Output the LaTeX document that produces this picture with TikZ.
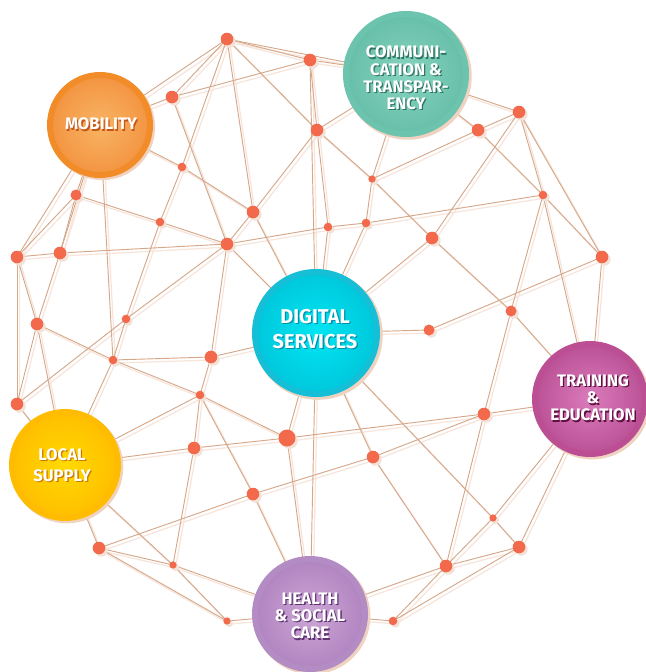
\documentclass[tikz,border=0pt]{standalone}
\usepackage{fontspec}
\setmainfont{Fira Sans}
\usetikzlibrary{shadows}
\definecolor{linec}{HTML}{D6A88A}
\definecolor{lshc}{HTML}{F7E4DA}
\definecolor{dotc}{HTML}{F26A4B}
\definecolor{dshc}{HTML}{F3E2D8}
\definecolor{hshc}{HTML}{EFD3C0}
% hubs
\definecolor{mobR}{HTML}{F28C28}\definecolor{mobI}{HTML}{F8B463}\definecolor{mobO}{HTML}{EE7420}\definecolor{mobS}{HTML}{C4561A}
\definecolor{comR}{HTML}{6CC4AE}\definecolor{comI}{HTML}{86D4C0}\definecolor{comO}{HTML}{48A990}\definecolor{comS}{HTML}{2E7564}
\definecolor{digR}{HTML}{16BED6}\definecolor{digI}{HTML}{00E6F2}\definecolor{digO}{HTML}{00A8C6}\definecolor{digS}{HTML}{0090AC}
\definecolor{traR}{HTML}{BC4E94}\definecolor{traI}{HTML}{DA7CBC}\definecolor{traO}{HTML}{9C2670}\definecolor{traS}{HTML}{5E1040}
\definecolor{locR}{HTML}{FFBC00}\definecolor{locI}{HTML}{FFDA00}\definecolor{locO}{HTML}{FFA200}\definecolor{locS}{HTML}{CC7A00}
\definecolor{heaR}{HTML}{B48CC4}\definecolor{heaI}{HTML}{CCA6D6}\definecolor{heaO}{HTML}{9662AA}\definecolor{heaS}{HTML}{5E3272}
\pgfdeclareradialshading{shmob}{\pgfpointorigin}{color(0bp)=(mobI); color(50bp)=(mobO)}
\pgfdeclareradialshading{shcom}{\pgfpointorigin}{color(0bp)=(comI); color(50bp)=(comO)}
\pgfdeclareradialshading{shdig}{\pgfpointorigin}{color(0bp)=(digI); color(50bp)=(digO)}
\pgfdeclareradialshading{shtra}{\pgfpointorigin}{color(0bp)=(traI); color(50bp)=(traO)}
\pgfdeclareradialshading{shloc}{\pgfpointorigin}{color(0bp)=(locI); color(50bp)=(locO)}
\pgfdeclareradialshading{shhea}{\pgfpointorigin}{color(0bp)=(heaI); color(50bp)=(heaO)}
\pgfdeclarelayer{bgA}\pgfdeclarelayer{bgB}\pgfdeclarelayer{bg0}
\pgfsetlayers{bg0,bgA,bgB,main}
\begin{document}
\begin{tikzpicture}[x=0.75pt,y=-0.75pt,
  ndot/.style={circle, fill=dotc, inner sep=0pt, outer sep=0pt,
    general shadow={fill=dshc, shadow xshift=1.8pt, shadow yshift=-1.8pt}},
  dXL/.style={ndot, minimum size=12.75pt},
  dL/.style={ndot, minimum size=9.45pt},
  dM/.style={ndot, minimum size=8.25pt},
  dS/.style={ndot, minimum size=6.45pt},
  dXS/.style={ndot, minimum size=5.5pt},
  hub/.style={circle, inner sep=0pt, outer sep=0pt, line width=4.5pt,
    general shadow={fill=hshc, shadow scale=1.06, shadow xshift=1.5pt, shadow yshift=-1.5pt}},
  htxt/.style={text=white, align=center, inner sep=0pt,
    font={\bfseries\fontsize{12.5pt}{12.9pt}\selectfont}},
  lmain/.style={draw=linec, line width=0.7pt},
  lsh/.style={draw=lshc, line width=0.9pt}]
\useasboundingbox (0,0) rectangle (646,672);
\begin{pgfonlayer}{bg0}
\fill[white] (0,0) rectangle (646,672);
\end{pgfonlayer}
% hubs
\node[hub, draw=mobR, shading=shmob, minimum size=75pt] (mob) at (100,125) {};
\node[hub, draw=comR, shading=shcom, minimum size=90pt] (com) at (406,74) {};
\node[hub, draw=digR, shading=shdig, minimum size=91.5pt] (dig) at (316,333) {};
\node[hub, draw=traR, shading=shtra, minimum size=82.5pt] (tra) at (590,399) {};
\node[hub, draw=locR, shading=shloc, minimum size=79.5pt] (loc) at (65,465) {};
\node[hub, draw=heaR, shading=shhea, minimum size=82.5pt] (hea) at (310,614) {};
% dots
\node[dL] (na) at (227,39) {};
\node[dL] (nb) at (310,60) {};
\node[dL] (nc) at (172,97) {};
\node[dL] (nd) at (317,130) {};
\node[dS] (ne) at (182,167) {};
\node[dM] (nf) at (76,195) {};
\node[dL] (ng) at (253,212) {};
\node[dS] (nh) at (160,222) {};
\node[dL] (ni) at (227,244) {};
\node[dL] (nj) at (17,257) {};
\node[dL] (nk) at (60,253) {};
\node[dS] (nl) at (328,227) {};
\node[dL] (nm) at (37,324) {};
\node[dS] (nn) at (126,319) {};
\node[dL] (no) at (519,112) {};
\node[dL] (np) at (478,130) {};
\node[dXS] (nq) at (372,179) {};
\node[dS] (nr) at (543,195) {};
\node[dS] (ns) at (366,223) {};
\node[dL] (nt) at (432,238) {};
\node[dL] (nu) at (602,257) {};
\node[dM] (nv) at (511,311) {};
\node[dM] (nw) at (429,330) {};
\node[dS] (nx) at (113,360) {};
\node[dL] (ny) at (211,357) {};
\node[dL] (nz) at (17,404) {};
\node[dS] (naa) at (200,395) {};
\node[dXL] (nab) at (287,438) {};
\node[dL] (nac) at (194,448) {};
\node[dL] (nad) at (253,494) {};
\node[dL] (nae) at (99,548) {};
\node[dXS] (naf) at (173,565) {};
\node[dXS] (nag) at (227,621) {};
\node[dL] (nai) at (484,414) {};
\node[dL] (naj) at (373,457) {};
\node[dXS] (nak) at (493,518) {};
\node[dL] (nal) at (519,547) {};
\node[dL] (nam) at (446,566) {};
\node[dS] (nan) at (393,621) {};
% connectors
\foreach \u/\v in {na/com, na/nb, na/mob, na/nc, na/ne, na/nd, na/ng,
  nb/nc, nb/com, nb/nd, nb/dig,
  nc/mob, nc/ni,
  nd/com, nd/ng, nd/nq, nd/nl,
  ne/mob, ne/ng, ne/nh,
  nf/mob, nf/nh, nf/nj, nf/nk,
  nh/ni, nh/nn,
  ng/ni, ng/dig,
  ni/nk, ni/nl, ni/nn, ni/ny, ni/dig,
  nj/nk, nj/mob, nj/nm, nj/nz,
  nk/mob, nk/nm,
  nl/ns, nl/dig,
  ns/nr, ns/nq, ns/dig,
  nq/com, nq/np, nq/nt,
  np/com, np/no, np/nr,
  no/com, no/nr, no/nu, no/nt,
  nr/nu, nr/nv, nr/tra,
  nt/nv, nt/dig,
  nu/nw, nu/tra,
  nv/tra, nv/nai,
  nw/dig,
  nm/nx, nm/nz, nm/loc,
  nn/nz, nn/nx,
  nx/mob, nx/ny, nx/naa, nx/loc,
  nz/loc,
  ny/naa, ny/dig,
  naa/nab, naa/nac, naa/loc, naa/nad,
  nab/nac, nab/dig, nab/hea, nab/nai,
  nac/loc, nac/naf,
  nad/nae, nad/naj, nad/hea,
  nae/loc, nae/naf, nae/nag,
  naf/loc, naf/hea, naf/nag,
  nag/hea,
  nai/tra, nai/naj, nai/nam,
  naj/dig, naj/nam,
  nak/dig, nak/nal, nak/tra, nak/nam,
  nal/tra, nal/nam, nal/nan,
  nam/hea, nam/nan,
  nan/hea, hea/dig}{
  \begin{pgfonlayer}{bgA}
    \draw[lsh] ([shift={(2.5,3)}]\u.center) -- ([shift={(2.5,3)}]\v.center);
  \end{pgfonlayer}
  \begin{pgfonlayer}{bgB}
    \draw[lmain] (\u.center) -- (\v.center);
  \end{pgfonlayer}
}
% labels
\node[htxt, text=mobS] (mobs) at (102.3,125.3) {MOBILITY};
\node[htxt] (mobt) at (101,124) {MOBILITY};
\node[htxt, text=comS] (coms) at (407.3,79.3) {COMMUNI-\\CATION \&\\TRANSPAR-\\ENCY};
\node[htxt] (comt) at (406,78) {COMMUNI-\\CATION \&\\TRANSPAR-\\ENCY};
\node[htxt, text=digS, font={\bfseries\fontsize{15pt}{18.75pt}\selectfont}] (digs) at (316.3,330.3) {DIGITAL\\SERVICES};
\node[htxt, font={\bfseries\fontsize{15pt}{18.75pt}\selectfont}] (digt) at (315,329) {DIGITAL\\SERVICES};
\node[htxt, text=traS] (tras) at (594.3,399.3) {TRAINING\\\&\\EDUCATION};
\node[htxt] (trat) at (593,398) {TRAINING\\\&\\EDUCATION};
\node[htxt, text=locS, font={\bfseries\fontsize{12.5pt}{15.75pt}\selectfont}] (locs) at (63.3,466.3) {LOCAL\\SUPPLY};
\node[htxt, font={\bfseries\fontsize{12.5pt}{15.75pt}\selectfont}] (loct) at (62,465) {LOCAL\\SUPPLY};
\node[htxt, text=heaS] (heas) at (311.3,617.3) {HEALTH\\\& SOCIAL\\CARE};
\node[htxt] (heat) at (310,616) {HEALTH\\\& SOCIAL\\CARE};
\end{tikzpicture}
\end{document}
